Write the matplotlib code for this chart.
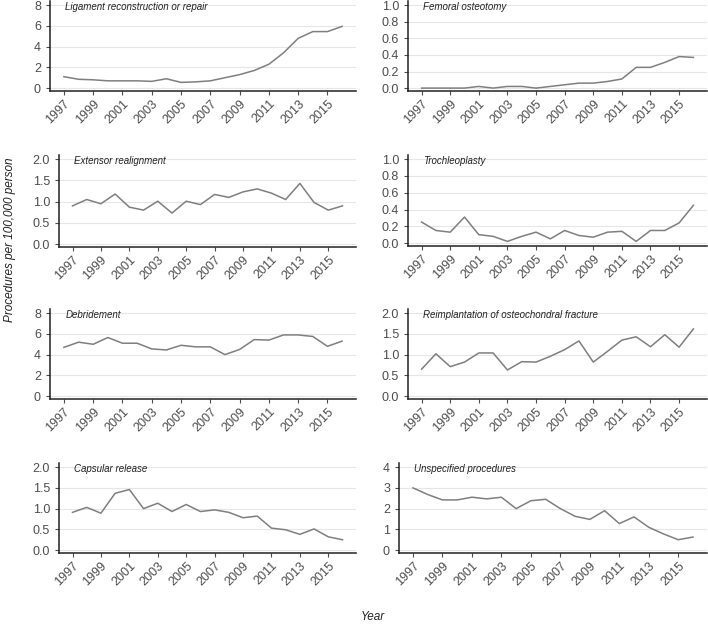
import numpy as np
import matplotlib
matplotlib.use("Agg")
import matplotlib.pyplot as plt

plt.rcParams['font.family'] = ['Liberation Sans', 'DejaVu Sans']

years = np.arange(1997, 2017)

ligament = [1.1, 0.85, 0.8, 0.7, 0.7, 0.7, 0.65, 0.9, 0.55, 0.6,
            0.7, 1.0, 1.3, 1.7, 2.3, 3.4, 4.8, 5.45, 5.45, 5.95]
femoral = [0.0, 0.0, 0.0, 0.0, 0.02, 0.0, 0.02, 0.02, 0.0, 0.02,
           0.04, 0.06, 0.06, 0.08, 0.11, 0.25, 0.25, 0.31, 0.38, 0.37]
extensor = [0.9, 1.05, 0.95, 1.18, 0.87, 0.8, 1.01, 0.73, 1.01, 0.93,
            1.17, 1.1, 1.23, 1.3, 1.2, 1.05, 1.43, 0.98, 0.8, 0.9]
trochleo = [0.25, 0.15, 0.13, 0.31, 0.1, 0.08, 0.02, 0.08, 0.13, 0.05,
            0.15, 0.09, 0.07, 0.13, 0.14, 0.02, 0.15, 0.15, 0.24, 0.45]
debride = [4.7, 5.2, 5.0, 5.65, 5.1, 5.1, 4.55, 4.45, 4.9, 4.75,
           4.75, 4.0, 4.5, 5.45, 5.4, 5.9, 5.9, 5.75, 4.8, 5.3]
reimpl = [0.65, 1.02, 0.71, 0.82, 1.04, 1.04, 0.63, 0.83, 0.82, 0.96,
          1.12, 1.33, 0.82, 1.08, 1.35, 1.43, 1.19, 1.48, 1.18, 1.62]
capsular = [0.91, 1.03, 0.89, 1.37, 1.46, 1.0, 1.13, 0.93, 1.1, 0.93,
            0.97, 0.91, 0.78, 0.82, 0.53, 0.49, 0.38, 0.51, 0.32, 0.25]
unspec = [3.0, 2.68, 2.42, 2.42, 2.55, 2.47, 2.55, 2.0, 2.38, 2.45,
          2.0, 1.63, 1.48, 1.9, 1.28, 1.6, 1.1, 0.78, 0.5, 0.63]

titles = ["Ligament reconstruction or repair", "Femoral osteotomy",
          "Extensor realignment", "Trochleoplasty",
          "Debridement", "Reimplantation of osteochondral fracture",
          "Capsular release", "Unspecified procedures"]
series = [ligament, femoral, extensor, trochleo, debride, reimpl, capsular, unspec]
yticks = [[0, 2, 4, 6, 8], [0.0, 0.2, 0.4, 0.6, 0.8, 1.0],
          [0.0, 0.5, 1.0, 1.5, 2.0], [0.0, 0.2, 0.4, 0.6, 0.8, 1.0],
          [0, 2, 4, 6, 8], [0.0, 0.5, 1.0, 1.5, 2.0],
          [0.0, 0.5, 1.0, 1.5, 2.0], [0, 1, 2, 3, 4]]

W, H = 708, 625
fig = plt.figure(figsize=(W / 100, H / 100), dpi=100)

# panel boxes in pixels: left, top, right, bottom
boxes = [(50, 1, 356, 91), (408, 1, 707, 91),
         (59, 155, 356, 247), (408, 155, 707, 246),
         (50, 309, 356, 399), (408, 309, 707, 399),
         (59, 463, 356, 553), (399, 463, 707, 553)]

for (l, t, r, b), title, vals, yt in zip(boxes, titles, series, yticks):
    ax = fig.add_axes([l / W, 1 - b / H, (r - l) / W, (b - t) / H])
    ax.plot(years, vals, color="#7f7f7f", lw=1.1)
    top = yt[-1]
    ax.set_ylim(-0.035 * top, 1.05 * top)
    ax.set_xlim(1997 - 0.95, 2016 + 0.95)
    ax.set_yticks(yt)
    ax.set_yticklabels([f"{v:g}" if isinstance(v, int) else f"{v:.1f}" for v in yt])
    ax.set_xticks(np.arange(1997, 2017, 2))
    ax.set_xticklabels([str(y) for y in range(1997, 2017, 2)],
                       rotation=45, ha="right", va="top", rotation_mode="anchor")
    ax.yaxis.grid(True, color="#e6e6e6", lw=0.8)
    ax.set_axisbelow(True)
    for s in ["top", "right"]:
        ax.spines[s].set_visible(False)
    for s in ["left", "bottom"]:
        ax.spines[s].set_color("#222222")
        ax.spines[s].set_linewidth(1.1)
    ax.tick_params(colors="#4d4d4d", labelsize=9, length=3, width=0.8)
    ax.tick_params(axis="x", pad=2)
    ax.text(0.05, 0.985, title, transform=ax.transAxes, fontsize=7.0,
            style="italic", ha="left", va="top", color="#222222")

fig.text(10 / W, 1 - 240 / H, "Procedures per 100,000 person", rotation=90,
         style="italic", fontsize=8.5, ha="center", va="center", color="#222222")
fig.text(373 / W, 1 - 617 / H, "Year", style="italic", fontsize=8.5,
         ha="center", va="center", color="#222222")

fig.savefig("out.png", dpi=100)
